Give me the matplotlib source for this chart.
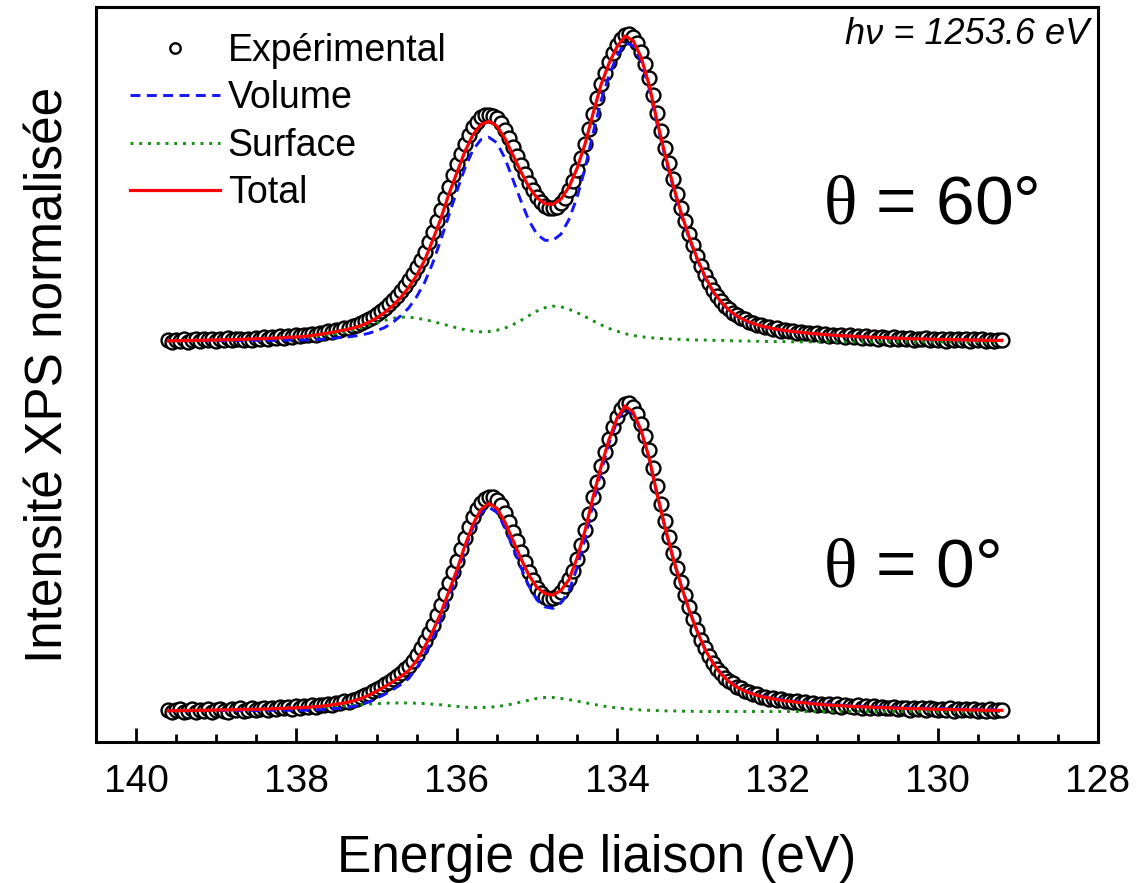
import numpy as np
import matplotlib
matplotlib.use("Agg")
import matplotlib.pyplot as plt

plt.rcParams['font.family'] = ['Liberation Sans', 'DejaVu Sans']
plt.rcParams['mathtext.fontset'] = 'custom'
plt.rcParams['mathtext.rm'] = 'Liberation Serif'

# ── DATA ─────────────────────────────────────────────────────────
# binding energy grid (eV): fits every 0.1 eV, measured points every 0.05 eV
E_FIT_START, E_FIT_STEP = 139.6, -0.1
E_EXP_START, E_EXP_STEP = 139.6, -0.05
E_END = 129.2

ANGLES = ['0°', '60°']
OFFSET_60 = 1.213          # vertical shift of the 60° spectrum
PHOTON_LABEL = 'hν = 1253.6 eV'

# normalised intensities, theta = 0°
total_0 = [
    0.000, 0.001, 0.001, 0.002, 0.002, 0.002, 0.003, 0.003, 0.004, 0.004,
    0.005, 0.005, 0.006, 0.007, 0.008, 0.009, 0.010, 0.011, 0.013, 0.015,
    0.018, 0.022, 0.026, 0.032, 0.040, 0.051, 0.065, 0.079, 0.095, 0.112,
    0.132, 0.165, 0.210, 0.260, 0.320, 0.390, 0.460, 0.540, 0.610, 0.660,
    0.680, 0.665, 0.620, 0.560, 0.500, 0.445, 0.405, 0.385, 0.380, 0.395,
    0.430, 0.500, 0.590, 0.700, 0.800, 0.890, 0.960, 1.000, 0.980, 0.920,
    0.830, 0.710, 0.600, 0.500, 0.410, 0.330, 0.260, 0.200, 0.155, 0.120,
    0.095, 0.077, 0.064, 0.055, 0.047, 0.042, 0.037, 0.033, 0.030, 0.027,
    0.025, 0.022, 0.020, 0.018, 0.017, 0.015, 0.014, 0.013, 0.012, 0.011,
    0.010, 0.009, 0.008, 0.007, 0.007, 0.006, 0.005, 0.005, 0.004, 0.004,
    0.003, 0.003, 0.002, 0.002, 0.002,
]
surface_0 = [
    0.000, 0.000, 0.001, 0.001, 0.001, 0.001, 0.002, 0.002, 0.002, 0.003,
    0.003, 0.004, 0.004, 0.005, 0.006, 0.007, 0.008, 0.009, 0.010, 0.011,
    0.012, 0.014, 0.016, 0.018, 0.020, 0.022, 0.024, 0.025, 0.026, 0.026,
    0.026, 0.025, 0.024, 0.022, 0.020, 0.017, 0.015, 0.012, 0.011, 0.011,
    0.012, 0.014, 0.018, 0.023, 0.029, 0.035, 0.041, 0.044, 0.044, 0.041,
    0.037, 0.032, 0.027, 0.022, 0.017, 0.013, 0.010, 0.007, 0.005, 0.003,
    0.002, 0.001, 0.000, 0.000, -0.001, -0.001, -0.002, -0.002, -0.002, -0.002,
    -0.002, -0.002, -0.002, -0.002, -0.002, -0.002, -0.002, -0.002, -0.002, -0.002,
    -0.002, -0.002, -0.002, -0.002, -0.002, -0.002, -0.002, -0.002, -0.002, -0.002,
    -0.002, -0.002, -0.002, -0.002, -0.002, -0.002, -0.002, -0.002, -0.002, -0.002,
    -0.002, -0.002, -0.002, -0.002, -0.002,
]
volume_0 = [
    0.000, 0.001, 0.000, 0.001, 0.001, 0.001, 0.001, 0.001, 0.002, 0.001,
    0.002, 0.001, 0.002, 0.002, 0.002, 0.002, 0.002, 0.002, 0.003, 0.004,
    0.006, 0.008, 0.010, 0.014, 0.020, 0.029, 0.041, 0.054, 0.069, 0.086,
    0.106, 0.140, 0.186, 0.238, 0.300, 0.373, 0.445, 0.528, 0.599, 0.649,
    0.668, 0.651, 0.602, 0.537, 0.471, 0.410, 0.364, 0.341, 0.336, 0.354,
    0.393, 0.468, 0.563, 0.678, 0.783, 0.877, 0.950, 0.993, 0.975, 0.917,
    0.828, 0.709, 0.600, 0.500, 0.411, 0.331, 0.262, 0.202, 0.157, 0.122,
    0.097, 0.079, 0.066, 0.057, 0.049, 0.044, 0.039, 0.035, 0.032, 0.029,
    0.027, 0.024, 0.022, 0.020, 0.019, 0.017, 0.016, 0.015, 0.014, 0.013,
    0.012, 0.011, 0.010, 0.009, 0.009, 0.008, 0.007, 0.007, 0.006, 0.006,
    0.005, 0.005, 0.004, 0.004, 0.004,
]
exp_0 = [
    0.003, -0.004, 0.002, 0.006, -0.002, 0.001, 0.005, -0.003, 0.004, 0.000,
    0.007, -0.002, 0.003, 0.006, 0.001, -0.003, 0.005, 0.002, 0.008, 0.001,
    0.004, 0.009, 0.002, 0.007, 0.011, 0.004, 0.010, 0.006, 0.013, 0.008,
    0.012, 0.007, 0.015, 0.010, 0.016, 0.012, 0.019, 0.014, 0.020, 0.018,
    0.022, 0.019, 0.027, 0.025, 0.031, 0.030, 0.037, 0.040, 0.044, 0.052,
    0.056, 0.064, 0.072, 0.078, 0.088, 0.096, 0.105, 0.114, 0.124, 0.136,
    0.146, 0.163, 0.182, 0.205, 0.229, 0.256, 0.283, 0.314, 0.346, 0.382,
    0.418, 0.455, 0.492, 0.530, 0.567, 0.604, 0.636, 0.662, 0.683, 0.696,
    0.701, 0.700, 0.692, 0.675, 0.650, 0.620, 0.588, 0.556, 0.522, 0.488,
    0.456, 0.428, 0.404, 0.386, 0.374, 0.368, 0.369, 0.376, 0.390, 0.408,
    0.432, 0.460, 0.497, 0.543, 0.592, 0.644, 0.702, 0.752, 0.803, 0.850,
    0.893, 0.930, 0.963, 0.990, 1.005, 1.010, 0.998, 0.975, 0.942, 0.900,
    0.855, 0.798, 0.738, 0.680, 0.623, 0.570, 0.518, 0.470, 0.423, 0.380,
    0.340, 0.302, 0.266, 0.234, 0.205, 0.180, 0.158, 0.139, 0.123, 0.109,
    0.098, 0.090, 0.079, 0.075, 0.066, 0.063, 0.055, 0.054, 0.046, 0.047,
    0.040, 0.042, 0.035, 0.038, 0.031, 0.034, 0.028, 0.031, 0.025, 0.029,
    0.022, 0.027, 0.020, 0.024, 0.018, 0.023, 0.016, 0.021, 0.014, 0.019,
    0.017, 0.012, 0.018, 0.011, 0.016, 0.010, 0.015, 0.009, 0.014, 0.010,
    0.008, 0.013, 0.006, 0.011, 0.009, 0.004, 0.010, 0.006, 0.009, 0.003,
    0.008, 0.005, 0.002, 0.007, 0.004, 0.008, 0.001, 0.006, 0.003, 0.005,
    0.002, 0.006, 0.000, 0.004, 0.001, 0.005, -0.001, 0.003, 0.002,
]

# theta = 60°
total_60 = [
    0.000, 0.001, 0.001, 0.002, 0.002, 0.003, 0.003, 0.004, 0.004, 0.005,
    0.006, 0.007, 0.008, 0.009, 0.010, 0.012, 0.013, 0.015, 0.018, 0.022,
    0.026, 0.031, 0.036, 0.042, 0.050, 0.061, 0.075, 0.093, 0.115, 0.142,
    0.175, 0.215, 0.265, 0.330, 0.400, 0.480, 0.550, 0.620, 0.675, 0.710,
    0.720, 0.705, 0.665, 0.610, 0.555, 0.505, 0.470, 0.450, 0.448, 0.465,
    0.505, 0.565, 0.645, 0.745, 0.840, 0.910, 0.965, 1.000, 0.985, 0.930,
    0.840, 0.720, 0.610, 0.510, 0.420, 0.340, 0.270, 0.210, 0.162, 0.127,
    0.100, 0.081, 0.067, 0.057, 0.049, 0.043, 0.038, 0.034, 0.031, 0.028,
    0.025, 0.023, 0.021, 0.019, 0.017, 0.016, 0.014, 0.013, 0.012, 0.011,
    0.010, 0.009, 0.008, 0.007, 0.007, 0.006, 0.005, 0.005, 0.004, 0.004,
    0.003, 0.003, 0.002, 0.002, 0.002,
]
surface_60 = [
    0.000, 0.000, 0.001, 0.001, 0.001, 0.002, 0.002, 0.002, 0.003, 0.003,
    0.004, 0.005, 0.006, 0.007, 0.008, 0.009, 0.010, 0.012, 0.014, 0.017,
    0.020, 0.024, 0.029, 0.035, 0.043, 0.051, 0.059, 0.067, 0.074, 0.078,
    0.078, 0.075, 0.070, 0.064, 0.057, 0.050, 0.043, 0.037, 0.032, 0.030,
    0.031, 0.035, 0.042, 0.053, 0.067, 0.083, 0.098, 0.109, 0.114, 0.112,
    0.104, 0.093, 0.080, 0.066, 0.053, 0.041, 0.032, 0.024, 0.018, 0.014,
    0.011, 0.009, 0.007, 0.006, 0.005, 0.004, 0.003, 0.003, 0.002, 0.002,
    0.001, 0.000, 0.000, -0.001, -0.001, -0.002, -0.002, -0.002, -0.003, -0.003,
    -0.003, -0.003, -0.003, -0.003, -0.003, -0.003, -0.003, -0.003, -0.003, -0.003,
    -0.003, -0.003, -0.003, -0.003, -0.003, -0.003, -0.003, -0.003, -0.003, -0.003,
    -0.003, -0.003, -0.003, -0.003, -0.003,
]
volume_60 = [
    0.000, 0.001, 0.000, 0.001, 0.001, 0.001, 0.001, 0.002, 0.001, 0.002,
    0.002, 0.002, 0.002, 0.002, 0.002, 0.003, 0.003, 0.003, 0.004, 0.005,
    0.008, 0.010, 0.012, 0.015, 0.019, 0.025, 0.033, 0.044, 0.060, 0.082,
    0.108, 0.145, 0.192, 0.255, 0.330, 0.410, 0.490, 0.565, 0.625, 0.660,
    0.668, 0.650, 0.600, 0.530, 0.460, 0.395, 0.350, 0.330, 0.330, 0.350,
    0.398, 0.470, 0.565, 0.680, 0.787, 0.870, 0.935, 0.978, 0.968, 0.916,
    0.829, 0.711, 0.603, 0.504, 0.415, 0.336, 0.267, 0.207, 0.160, 0.125,
    0.098, 0.080, 0.066, 0.056, 0.048, 0.042, 0.037, 0.033, 0.030, 0.027,
    0.025, 0.023, 0.021, 0.019, 0.017, 0.016, 0.014, 0.013, 0.012, 0.011,
    0.010, 0.009, 0.008, 0.007, 0.007, 0.006, 0.005, 0.005, 0.004, 0.004,
    0.003, 0.003, 0.002, 0.002, 0.002,
]
exp_60 = [
    0.002, -0.003, 0.004, 0.001, 0.006, -0.002, 0.003, 0.007, 0.000, 0.005,
    0.002, 0.008, 0.001, 0.006, 0.004, 0.009, 0.002, 0.007, 0.005, 0.003,
    0.008, 0.004, 0.010, 0.007, 0.012, 0.008, 0.013, 0.010, 0.015, 0.011,
    0.016, 0.014, 0.019, 0.015, 0.021, 0.018, 0.024, 0.021, 0.027, 0.026,
    0.031, 0.030, 0.036, 0.037, 0.042, 0.044, 0.049, 0.053, 0.058, 0.064,
    0.071, 0.079, 0.087, 0.097, 0.108, 0.120, 0.133, 0.148, 0.164, 0.181,
    0.199, 0.219, 0.241, 0.266, 0.293, 0.325, 0.358, 0.394, 0.430, 0.468,
    0.506, 0.543, 0.579, 0.614, 0.647, 0.676, 0.700, 0.719, 0.733, 0.740,
    0.742, 0.739, 0.730, 0.714, 0.692, 0.665, 0.636, 0.606, 0.576, 0.546,
    0.518, 0.494, 0.472, 0.455, 0.443, 0.436, 0.435, 0.440, 0.452, 0.470,
    0.495, 0.525, 0.560, 0.600, 0.645, 0.694, 0.745, 0.795, 0.842, 0.880,
    0.915, 0.945, 0.970, 0.990, 1.003, 1.008, 0.998, 0.978, 0.948, 0.908,
    0.862, 0.805, 0.746, 0.690, 0.634, 0.582, 0.530, 0.483, 0.436, 0.394,
    0.352, 0.315, 0.279, 0.247, 0.217, 0.191, 0.167, 0.148, 0.131, 0.116,
    0.104, 0.092, 0.085, 0.075, 0.071, 0.062, 0.060, 0.052, 0.052, 0.045,
    0.046, 0.039, 0.041, 0.034, 0.037, 0.031, 0.033, 0.027, 0.030, 0.025,
    0.027, 0.022, 0.025, 0.019, 0.023, 0.017, 0.021, 0.015, 0.019, 0.013,
    0.018, 0.012, 0.016, 0.010, 0.015, 0.009, 0.013, 0.008, 0.012, 0.010,
    0.007, 0.012, 0.005, 0.010, 0.006, 0.011, 0.003, 0.008, 0.005, 0.009,
    0.002, 0.007, 0.004, 0.008, 0.001, 0.006, 0.003, 0.007, 0.002, 0.005,
    0.001, 0.005, 0.002, 0.006, -0.001, 0.004, 0.001, 0.003, 0.002,
]

e_fit = np.round(np.arange(E_FIT_START, E_END + E_FIT_STEP / 2, E_FIT_STEP), 2)
e_exp = np.round(np.arange(E_EXP_START, E_END + E_EXP_STEP / 2, E_EXP_STEP), 2)
for arr in (total_0, surface_0, volume_0, total_60, surface_60, volume_60):
    assert len(arr) == len(e_fit), (len(arr), len(e_fit))
for arr in (exp_0, exp_60):
    assert len(arr) == len(e_exp), (len(arr), len(e_exp))

spectra = {
    '0°':  dict(exp=exp_0,  vol=volume_0,  surf=surface_0,  tot=total_0,  off=0.0),
    '60°': dict(exp=exp_60, vol=volume_60, surf=surface_60, tot=total_60, off=OFFSET_60),
}

# ── PLOT ─────────────────────────────────────────────────────────
W, H = 1142, 883
fig = plt.figure(figsize=(W / 100, H / 100), dpi=100)
ax = fig.add_axes([96 / W, (H - 742) / H, (1098 - 96) / W, (742 - 7) / H])

BLUE, GREEN, RED = '#1414ff', '#159015', '#ff0000'

for i, name in enumerate(ANGLES):
    s = spectra[name]
    off = s['off']
    first = (i == 0)
    ax.plot(e_exp, np.array(s['exp']) + off, 'o', ms=10, mfc='white', mec='black',
            mew=1.7, zorder=1, label='Expérimental' if first else None)
    ax.plot(e_fit, np.array(s['vol']) + off, color=BLUE, lw=2.1,
            ls=(0, (3.4, 2.2)), zorder=3, label='Volume' if first else None)
    ax.plot(e_fit, np.array(s['surf']) + off, color=GREEN, lw=2.1,
            ls=(0, (1, 2.0)), zorder=2, label='Surface' if first else None)
    ax.plot(e_fit, np.array(s['tot']) + off, color=RED, lw=2.3,
            zorder=4, label='Total' if first else None)

ax.set_xlim(140.5, 128)
ax.set_ylim(-0.102, 2.308)
ax.set_xticks([140, 138, 136, 134, 132, 130, 128])
ax.set_xticks(np.arange(140, 127.9, -0.5), minor=True)
ax.set_yticks([])
ax.tick_params(axis='x', which='major', direction='in', length=10, width=2,
               labelsize=28, pad=16)
ax.tick_params(axis='x', which='minor', direction='in', length=5.5, width=2)
for sp in ax.spines.values():
    sp.set_linewidth(2.2)

ax.set_xlabel('Energie de liaison (eV)', fontsize=37, labelpad=24)
ax.set_ylabel('Intensité XPS normalisée', fontsize=37, labelpad=16)

leg = ax.legend(loc='upper left', frameon=False, fontsize=27, handlelength=2.4,
                handletextpad=0.2, labelspacing=0.3, borderaxespad=0.3,
                markerscale=0.75, bbox_to_anchor=(0.008, 1.0))

ax.text(0.7255, 0.7306, r'$\mathrm{\theta}$ = 60°', transform=ax.transAxes,
        fontsize=50, ha='left', va='center')
ax.text(0.7255, 0.2367, r'$\mathrm{\theta}$ = 0°', transform=ax.transAxes,
        fontsize=50, ha='left', va='center')
ax.text(0.9915, 0.986, PHOTON_LABEL, transform=ax.transAxes, fontsize=26,
        style='italic', ha='right', va='top')

fig.savefig('out.png', dpi=100)
